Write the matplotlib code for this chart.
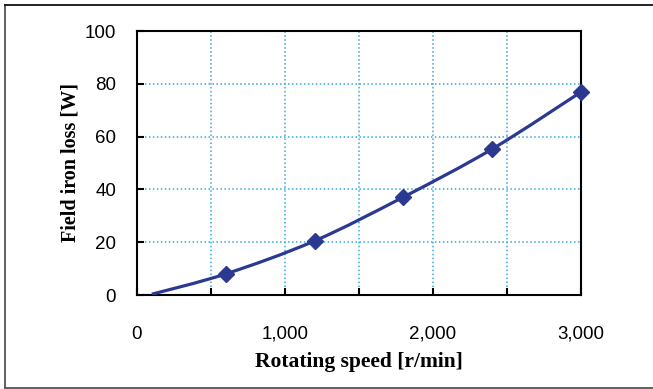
import numpy as np
import matplotlib
matplotlib.use("Agg")
import matplotlib.pyplot as plt
from matplotlib.path import Path
from matplotlib.patches import PathPatch
from matplotlib.lines import Line2D

# Data
speed = [100, 600, 1200, 1800, 2400, 3000]          # r/min
loss = [0.3, 8.0, 20.5, 37.1, 55.3, 76.9]           # W
marker_speed = speed[1:]
marker_loss = loss[1:]
x_ticks = [0, 500, 1000, 1500, 2000, 2500, 3000]
x_ticklabels = ["0", "", "1,000", "", "2,000", "", "3,000"]
y_ticks = [0, 20, 40, 60, 80, 100]
y_ticklabels = ["0", "20", "40", "60", "80", "100"]

LINE = "#2B3990"
GRID = "#35A8E0"

W, H = 653, 389
fig = plt.figure(figsize=(W / 100, H / 100), dpi=100)
# outer frame (left, top, bottom visible; right edge runs off the image)
fx = lambda p: p / W
fy = lambda p: 1 - p / H
fig.add_artist(Line2D([fx(4.5), fx(4.5)], [fy(4.5), fy(388)], color="#555555",
                      linewidth=1.3, transform=fig.transFigure))
fig.add_artist(Line2D([fx(4.5), fx(660)], [fy(4.5), fy(4.5)], color="#111111",
                      linewidth=1.3, transform=fig.transFigure))
fig.add_artist(Line2D([fx(4.5), fx(660)], [fy(388), fy(388)], color="#555555",
                      linewidth=1.3, transform=fig.transFigure))

ax = fig.add_axes([137 / W, (H - 295) / H, 444 / W, (295 - 31) / H])

# Smooth (Catmull-Rom style, like spreadsheet smoothing) curve through points
pts = list(zip(speed, loss))
verts = [pts[0]]
codes = [Path.MOVETO]
n = len(pts)
for i in range(n - 1):
    p0 = pts[i - 1] if i > 0 else pts[i]
    p1 = pts[i]
    p2 = pts[i + 1]
    p3 = pts[i + 2] if i + 2 < n else pts[i + 1]
    c1 = (p1[0] + (p2[0] - p0[0]) / 6, p1[1] + (p2[1] - p0[1]) / 6)
    c2 = (p2[0] - (p3[0] - p1[0]) / 6, p2[1] - (p3[1] - p1[1]) / 6)
    verts += [c1, c2, p2]
    codes += [Path.CURVE4] * 3
ax.add_patch(PathPatch(Path(verts, codes), fill=False, edgecolor=LINE,
                       linewidth=2.3, capstyle="butt", zorder=3))
ax.plot(marker_speed, marker_loss, linestyle="none", marker="D",
        markersize=8.3, color=LINE, zorder=4, clip_on=False)

ax.set_xlim(0, 3000)
ax.set_ylim(0, 100)
ax.set_xticks(x_ticks)
ax.set_xticklabels(x_ticklabels)
ax.set_yticks(y_ticks)
ax.set_yticklabels(y_ticklabels)
ax.grid(True, linestyle=(0, (1, 1.6)), color=GRID, linewidth=1.1)
ax.set_axisbelow(True)
for s in ax.spines.values():
    s.set_linewidth(1.5)
    s.set_color("black")

ax.tick_params(axis="x", direction="in", length=5, width=1.5, pad=22)
ax.tick_params(axis="y", direction="in", length=5, width=1.5, pad=15)
for t in ax.get_xticklabels() + ax.get_yticklabels():
    t.set_fontfamily("Liberation Sans")
    t.set_fontsize(13.5)

ax.set_xlabel("Rotating speed [r/min]", family="Liberation Serif",
              weight="bold", size=15.5, labelpad=7)
ax.set_ylabel("Field iron loss [W]", family="Liberation Serif",
              weight="bold", size=14.5, labelpad=3)

fig.savefig("out.png", dpi=100)
